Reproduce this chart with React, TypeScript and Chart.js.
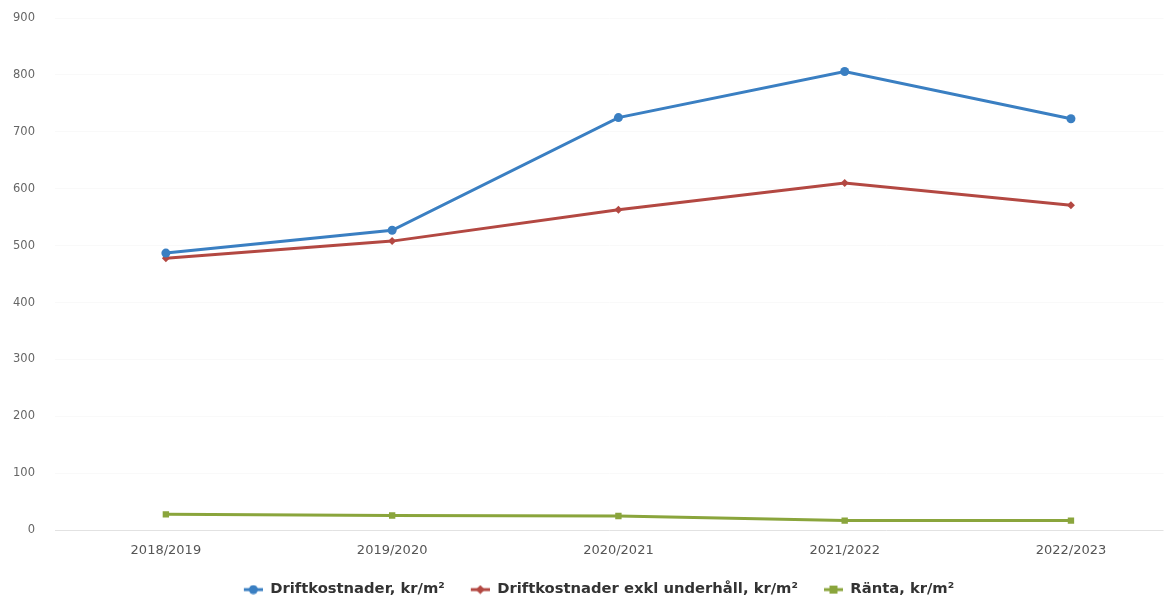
import React, { useEffect, useRef } from "react";
import { Chart, registerables } from "chart.js";

Chart.register(...registerables);

const categories = ["2018/2019", "2019/2020", "2020/2021", "2021/2022", "2022/2023"];
const driftkostnader = [487, 527, 725, 806, 723];
const driftkostnaderExkl = [478, 508, 563, 610, 571];
const ranta = [28, 26, 25, 17, 17];
const yTicks = [0, 100, 200, 300, 400, 500, 600, 700, 800, 900];

const BLUE = "#3a7fc2";
const RED = "#b34842";
const GREEN = "#8aa53c";

const ICON_W = 43;
const ICON_LINE = 19;

function legendIcon(color: string, shape: "circle" | "diamond" | "square") {
  const c = document.createElement("canvas");
  c.width = ICON_W;
  c.height = 10;
  const g = c.getContext("2d")!;
  const x0 = ICON_W - ICON_LINE;
  const cx = x0 + ICON_LINE / 2;
  g.strokeStyle = color;
  g.lineWidth = 3;
  g.beginPath();
  g.moveTo(x0, 5);
  g.lineTo(ICON_W, 5);
  g.stroke();
  g.fillStyle = color;
  g.beginPath();
  if (shape === "circle") {
    g.arc(cx, 5, 4.5, 0, Math.PI * 2);
  } else if (shape === "diamond") {
    g.moveTo(cx, 0.5);
    g.lineTo(cx + 4.5, 5);
    g.lineTo(cx, 9.5);
    g.lineTo(cx - 4.5, 5);
    g.closePath();
  } else {
    g.rect(cx - 4, 1, 8, 8);
  }
  g.fill();
  return c;
}

export default function App() {
  const ref = useRef<HTMLCanvasElement | null>(null);

  useEffect(() => {
    document.body.style.margin = "0";
    const icons = [
      legendIcon(BLUE, "circle"),
      legendIcon(RED, "diamond"),
      legendIcon(GREEN, "square"),
    ];
    const toPts = (arr: number[]) => arr.map((y, i) => ({ x: i, y }));
    const chart = new Chart(ref.current!, {
      type: "line",
      data: {
        datasets: [
          {
            label: "Driftkostnader, kr/m²",
            data: toPts(driftkostnader),
            borderColor: BLUE,
            backgroundColor: BLUE,
            borderWidth: 3,
            pointStyle: "circle",
            pointRadius: 4.5,
            pointBorderWidth: 0,
            tension: 0,
          },
          {
            label: "Driftkostnader exkl underhåll, kr/m²",
            data: toPts(driftkostnaderExkl),
            borderColor: RED,
            backgroundColor: RED,
            borderWidth: 3,
            pointStyle: "rectRot",
            pointRadius: 4,
            pointBorderWidth: 0,
            tension: 0,
          },
          {
            label: "Ränta, kr/m²",
            data: toPts(ranta),
            borderColor: GREEN,
            backgroundColor: GREEN,
            borderWidth: 3,
            pointStyle: "rect",
            pointRadius: 4.5,
            pointBorderWidth: 0,
            tension: 0,
          },
        ],
      },
      options: {
        animation: false,
        responsive: true,
        maintainAspectRatio: false,
        layout: { padding: { top: 18, right: -6, left: 0, bottom: -8 } },
        plugins: {
          tooltip: { enabled: false },
          legend: {
            position: "bottom",
            labels: {
              usePointStyle: true,
              pointStyleWidth: ICON_W,
              padding: 2,
              color: "#333",
              font: { family: "'DejaVu Sans', sans-serif", size: 14.75, weight: "bold" },
              generateLabels: (ch: any) =>
                ch.data.datasets.map((ds: any, i: number) => ({
                  text: ds.label,
                  fillStyle: ds.borderColor,
                  strokeStyle: ds.borderColor,
                  pointStyle: icons[i],
                  lineWidth: 0,
                  hidden: false,
                  datasetIndex: i,
                  fontColor: "#333",
                })),
            },
          },
        },
        scales: {
          x: {
            type: "linear",
            min: -0.49,
            max: 4.409,
            grid: { display: false },
            border: { display: false },
            afterBuildTicks: (scale: any) => {
              scale.ticks = categories.map((_, i) => ({ value: i }));
            },
            afterFit: (scale: any) => {
              scale.height = 50;
            },
            ticks: {
              autoSkip: false,
              maxRotation: 0,
              padding: 5,
              color: "#555",
              font: { family: "'DejaVu Sans', sans-serif", size: 13 },
              callback: (v: any) => categories[Math.round(Number(v))] ?? "",
            },
          },
          y: {
            min: 0,
            max: 900,
            afterBuildTicks: (scale: any) => {
              scale.ticks = yTicks.map((v) => ({ value: v }));
            },
            afterFit: (scale: any) => {
              scale.width = 55;
            },
            border: { display: false },
            grid: {
              drawTicks: true,
              tickLength: 20,
              tickColor: "rgba(0,0,0,0)",
              color: (c: any) => (c.tick && c.tick.value === 0 ? "#e2e2e2" : "rgba(0,0,0,0.025)"),
            },
            ticks: {
              padding: 0,
              color: "#666",
              font: { family: "'DejaVu Sans', sans-serif", size: 11.5 },
            },
          },
        },
      },
    } as any);
    return () => chart.destroy();
  }, []);

  return (
    <div style={{ width: 1168, height: 599, position: "relative" }}>
      <canvas ref={ref} />
    </div>
  );
}
